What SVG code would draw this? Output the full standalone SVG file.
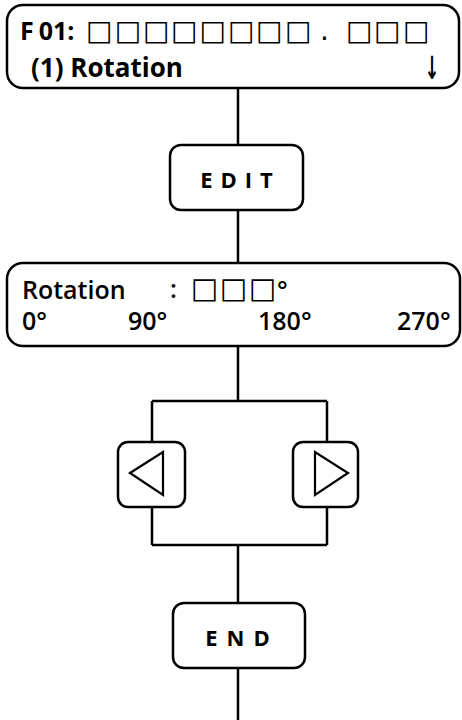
<svg xmlns="http://www.w3.org/2000/svg" width="462" height="720" viewBox="0 0 462 720">
<style>
.box{fill:#fff;stroke:#000;stroke-width:2.5}
.ln{fill:none;stroke:#000;stroke-width:2.5}
.tb{font-family:"Open Sans","Liberation Sans",sans-serif;font-weight:700;fill:#000}
.tn{font-family:"Open Sans","Liberation Sans",sans-serif;font-weight:600;fill:#000}
.sq{font-family:"DejaVu Sans",sans-serif;font-weight:400;fill:#000}
.tri{fill:#fff;stroke:#000;stroke-width:2.2;stroke-linejoin:miter}
</style>
<rect width="462" height="720" fill="#fff"/>
<g id="connectors">
<path class="ln" d="M238 88V145M238 210V263M238 346V401M152 401H327M152 401V442M327 401V442M152 507V545M327 507V545M152 545H327M238 545V603M238 668V720"/>
</g>
<g id="node-f01">
<rect class="box" x="7" y="5" width="452" height="83" rx="16"/>
<text class="tb" x="20" y="40" font-size="25">F<tspan dx="5">01:</tspan></text>
<text class="sq" font-size="28" y="40"><tspan x="86 114.7 143 171 199.5 228 256 285">□□□□□□□□</tspan><tspan x="320">.</tspan><tspan x="346 374 403">□□□</tspan></text>
<text class="tb" x="31" y="77" font-size="26">(1) Rotation</text>
<text x="785.5" y="79" font-size="32" font-weight="700" font-family="DejaVu Sans,sans-serif" text-anchor="middle" transform="scale(0.55,1)">↓</text>
</g>
<g id="node-edit">
<rect class="box" x="170" y="145" width="133" height="65" rx="11"/>
<text class="tb" x="240.5" y="188" font-size="22" letter-spacing="8" text-anchor="middle">EDIT</text>
</g>
<g id="node-rotation">
<rect class="box" x="7" y="263" width="453" height="83" rx="16"/>
<text class="tn" x="22" y="299" font-size="25">Rotation</text>
<text class="tn" x="170" y="298" font-size="25">:</text>
<text class="sq" font-size="29" y="298"><tspan x="191 220 249">□□□</tspan></text>
<text class="tn" x="277" y="299" font-size="25">°</text>
<text class="tn" y="330" font-size="25"><tspan x="22">0°</tspan><tspan x="128">90°</tspan><tspan x="258">180°</tspan><tspan x="397">270°</tspan></text>
</g>
<g id="node-left">
<rect class="box" x="118" y="442" width="67" height="65" rx="10"/>
<polygon class="tri" points="130,473 163,452 163,495"/>
</g>
<g id="node-right">
<rect class="box" x="293" y="442" width="65" height="65" rx="10"/>
<polygon class="tri" points="315,452 315,495 348,473"/>
</g>
<g id="node-end">
<rect class="box" x="173" y="603" width="132" height="65" rx="11"/>
<text class="tb" x="242" y="646" font-size="22" letter-spacing="9" text-anchor="middle">END</text>
</g>
</svg>
